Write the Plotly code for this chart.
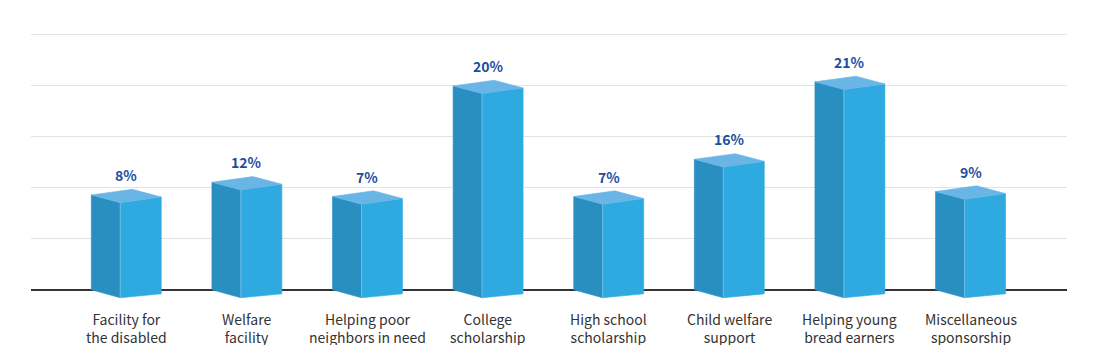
import plotly.graph_objects as go

categories = ["Facility for<br>the disabled", "Welfare<br>facility", "Helping poor<br>neighbors in need",
              "College<br>scholarship", "High school<br>scholarship", "Child welfare<br>support",
              "Helping young<br>bread earners", "Miscellaneous<br>sponsorship"]
percent_labels = [8, 12, 7, 20, 7, 16, 21, 9]
# drawn bar heights (axis units)
bar_heights = [9.3, 10.55, 9.15, 20.0, 9.15, 12.8, 20.4, 9.64]

LEFT_C = "rgb(41,143,193)"
FRONT_C = "rgb(46,170,225)"
TOP_C = "rgb(104,181,230)"

# prism geometry (in axis units)
hw = 0.29      # half width
fx = -0.05     # front edge offset
dfy = -0.755   # front corner drop at top
dry = -0.20    # right corner drop at top
bfy = -0.78    # front corner drop at bottom
bry = -0.40    # right corner drop at bottom

lx, ly, fxs, fys, tx, ty, ex, ey = [], [], [], [], [], [], [], []
for i, h in enumerate(bar_heights):
    c = i
    lx += [c - hw, c - hw, c + fx, c + fx, c - hw, None]
    ly += [0, h, h + dfy, bfy, 0, None]
    fxs += [c + fx, c + fx, c + hw, c + hw, c + fx, None]
    fys += [bfy, h + dfy, h + dry, bry, bfy, None]
    bx = c - hw + (hw - fx)
    by = h + (dry - dfy)
    tx += [c - hw, bx, c + hw, c + fx, c - hw, None]
    ty += [h, by, h + dry, h + dfy, h, None]
    ex += [c + fx, c + fx, None]
    ey += [bfy, h + dfy, None]

fig = go.Figure()
for xs, ys, col in [(lx, ly, LEFT_C), (fxs, fys, FRONT_C), (tx, ty, TOP_C)]:
    fig.add_trace(go.Scatter(x=xs, y=ys, mode="lines", fill="toself", fillcolor=col,
                             line=dict(color=col, width=0.6), hoverinfo="skip", showlegend=False))
fig.add_trace(go.Scatter(x=ex, y=ey, mode="lines", line=dict(color="rgba(130,200,240,0.7)", width=1),
                         hoverinfo="skip", showlegend=False))

for i, (h, p) in enumerate(zip(bar_heights, percent_labels)):
    fig.add_annotation(x=i, y=h, text=f"{p}%", showarrow=False, yanchor="middle", yshift=20,
                       font=dict(family="Noto Sans CJK KR", size=14, color="rgb(28,78,160)", weight="bold"))

# category labels below the baseline
tick_font = dict(family="Noto Sans CJK KR", size=14, color="#333333")
for i, cat in enumerate(categories):
    fig.add_annotation(x=i, xref="x", y=0, yref="y", yshift=-38.5, text=cat,
                       showarrow=False, yanchor="middle", xanchor="center", font=tick_font)

fig.update_layout(
    width=1100, height=345,
    margin=dict(l=31, r=33, t=32, b=43),
    paper_bgcolor="white", plot_bgcolor="white",
    xaxis=dict(range=[-0.79, 7.8], tickvals=list(range(len(categories))),
               showticklabels=False,
               showgrid=False, zeroline=False, showline=False, ticks="", automargin=False,
               fixedrange=True),
    yaxis=dict(range=[-1.2, 25.29], tick0=0, dtick=5, showticklabels=False, ticks="",
               showgrid=True, gridcolor="#e3e3e3", gridwidth=1, automargin=False,
               zeroline=True, zerolinecolor="#333333", zerolinewidth=1.5, showline=False,
               fixedrange=True),
)

fig.write_html("out.html")
